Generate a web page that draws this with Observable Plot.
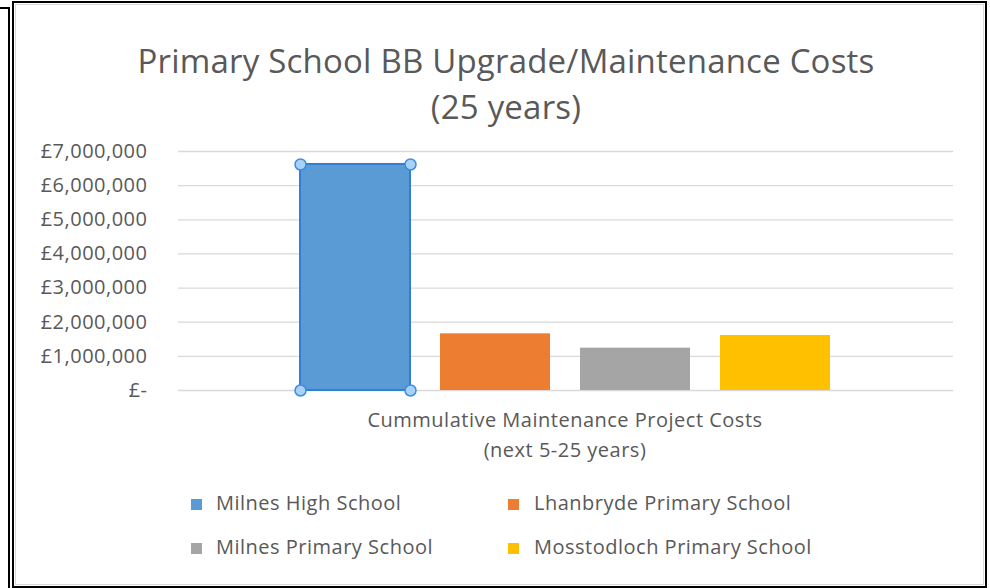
<!DOCTYPE html>
<html>
<head>
<meta charset="utf-8">
<script src="https://cdn.jsdelivr.net/npm/d3@7"></script>
<script src="https://cdn.jsdelivr.net/npm/@observablehq/plot@0.6"></script>
<style>
  html, body { margin: 0; padding: 0; background: #fff; }
  #page { position: relative; width: 990px; height: 588px; overflow: hidden; font-family: "Open Sans", "Noto Sans", sans-serif; color: #595959; }
  .abs { position: absolute; }
  #title { left: 13px; width: 986px; top: 38px; text-align: center; font-size: 33px; letter-spacing: 0.2px; line-height: 46px; }
  #cat { left: 315px; width: 500px; top: 405px; text-align: center; font-size: 20px; letter-spacing: 0.5px; line-height: 30px; z-index: 3; }
  .leg { position: absolute; font-size: 20px; letter-spacing: 0.5px; line-height: 24px; white-space: nowrap; }
  .sw { position: absolute; width: 11px; height: 11px; }
  #strip { left: 0; top: 7px; width: 8px; height: 590px; border-top: 2px solid #000; border-right: 2px solid #000; z-index: 5; }
  #frame { left: 12px; top: 1px; width: 975px; height: 587px; border: 2px solid #000; box-sizing: border-box; z-index: 5; }
  #inner { left: 15px; top: 4px; width: 969px; height: 581px; border: 1px solid #d9d9d9; box-sizing: border-box; z-index: 5; }
  #chart { left: 0; top: 130px; }
  #chart svg text { letter-spacing: 0.5px; }
</style>
</head>
<body>
<div id="page">
  <div id="strip" class="abs"></div>
  <div id="frame" class="abs"></div>
  <div id="inner" class="abs"></div>
  <div id="title" class="abs"></div>
  <div id="chart" class="abs"></div>
  <div id="cat" class="abs"></div>
  <div id="legend"></div>
</div>
<script>
const titleLines = ["Primary School BB Upgrade/Maintenance Costs", "(25 years)"];
const categoryLines = ["Cummulative Maintenance Project Costs", "(next 5-25 years)"];
const schools = ["Milnes High School", "Lhanbryde Primary School", "Milnes Primary School", "Mosstodloch Primary School"];
const costs = [6620000, 1660000, 1240000, 1610000];
const colors = ["#5b9bd5", "#ed7d31", "#a5a5a5", "#ffc000"];
const yTicks = [0, 1000000, 2000000, 3000000, 4000000, 5000000, 6000000, 7000000];
const selectedSchool = "Milnes High School";

const data = schools.map((s, i) => ({school: s, value: costs[i]}));

document.getElementById("title").innerHTML = titleLines.join("<br>");
document.getElementById("cat").innerHTML = categoryLines.join("<br>");

const fmt = v => v === 0 ? "£-" : "£" + d3.format(",")(v);

function build(extra) {
  return Plot.plot({
    width: 990,
    height: 280,
    marginTop: 21,
    marginBottom: 20,
    marginLeft: 178,
    marginRight: 37,
    style: {background: "none", fontSize: "20px", fontFamily: "'Open Sans', 'Noto Sans', sans-serif", color: "#595959", overflow: "visible"},
    x: {domain: schools, paddingInner: 0.213, paddingOuter: 0.856, axis: null},
    y: {domain: [0, 7000000], axis: null},
    color: {domain: schools, range: colors},
    marks: [
      Plot.ruleY(yTicks, {stroke: "#d9d9d9", strokeWidth: 1.3}),
      Plot.axisY({ticks: yTicks, tickSize: 0, tickPadding: 31, tickFormat: fmt, label: null, fill: "#595959"}),
      Plot.barY(data, {x: "school", y: "value", fill: "school"}),
      ...extra
    ]
  });
}

const probe = build([]);
const bw = probe.scale("x").bandwidth;
const sel = data.filter(d => d.school === selectedSchool);
const corners = sel.flatMap(d => [{school: d.school, y: d.value}, {school: d.school, y: 0}]);
const handle = {x: "school", y: "y", r: 5.5, fill: "#a9d0f5", stroke: "#3b8ddf", strokeWidth: 1.5};
const chart = build([
  Plot.barY(sel, {x: "school", y: "value", fill: "none", stroke: "#2f7fd3", strokeWidth: 2}),
  Plot.dot(corners, {...handle, dx: -bw / 2}),
  Plot.dot(corners, {...handle, dx: bw / 2})
]);
document.getElementById("chart").appendChild(chart);

const legendPos = [[191, 216, 505], [508, 534, 505], [191, 216, 549], [508, 534, 549]];
const legend = document.getElementById("legend");
schools.forEach((s, i) => {
  const [sx, tx, cy] = legendPos[i];
  const sw = document.createElement("div");
  sw.className = "sw";
  sw.style.left = sx + "px";
  sw.style.top = (cy - 6) + "px";
  sw.style.background = colors[i];
  legend.appendChild(sw);
  const t = document.createElement("div");
  t.className = "leg";
  t.style.left = tx + "px";
  t.style.top = (cy - 14) + "px";
  t.textContent = s;
  legend.appendChild(t);
});
</script>
</body>
</html>
